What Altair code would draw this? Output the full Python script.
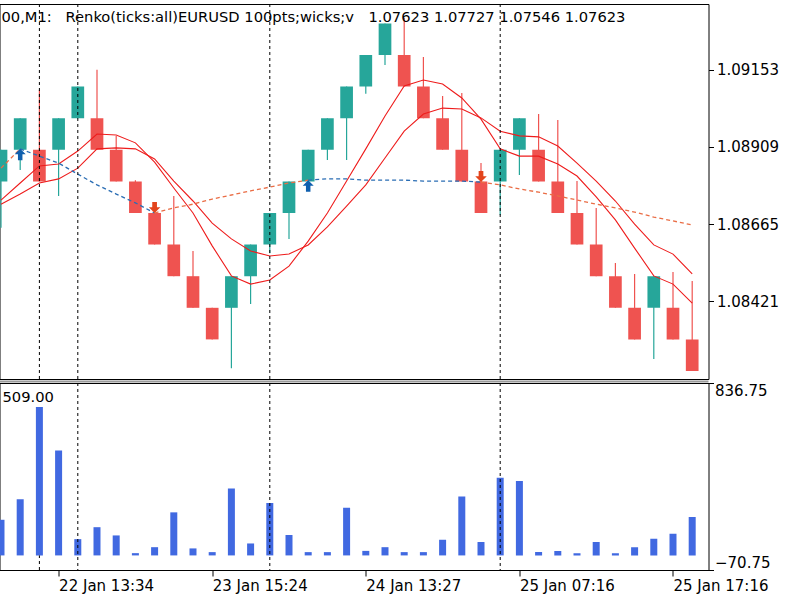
import altair as alt
import pandas as pd

# ---------------- data ----------------
opens = [1.0880, 1.0890, 1.0890, 1.0890, 1.0900, 1.0900, 1.0890, 1.0880, 1.0870, 1.0860,
         1.0850, 1.0840, 1.0840, 1.0850, 1.0860, 1.0870, 1.0880, 1.0890, 1.0900, 1.0910,
         1.0920, 1.0920, 1.0910, 1.0900, 1.0890, 1.0880, 1.0880, 1.0890, 1.0890, 1.0880,
         1.0870, 1.0860, 1.0850, 1.0840, 1.0840, 1.0840, 1.0830]
closes = [1.0890, 1.0900, 1.0880, 1.0900, 1.0910, 1.0890, 1.0880, 1.0870, 1.0860, 1.0850,
          1.0840, 1.0830, 1.0850, 1.0860, 1.0870, 1.0880, 1.0890, 1.0900, 1.0910, 1.0920,
          1.0930, 1.0910, 1.0900, 1.0890, 1.0880, 1.0870, 1.0890, 1.0900, 1.0880, 1.0870,
          1.0860, 1.0850, 1.0840, 1.0830, 1.0850, 1.0830, 1.0820]
highs = [1.0890, 1.0900, 1.09089, 1.0900, 1.0910, 1.09153, 1.08944, 1.08804, 1.0870, 1.08754,
         1.08580, 1.0840, 1.0850, 1.0860, 1.0870, 1.0880, 1.0890, 1.0900, 1.0910, 1.0920,
         1.0930, 1.09317, 1.09194, 1.09070, 1.09080, 1.08858, 1.0890, 1.0900, 1.09013, 1.08994,
         1.08801, 1.08716, 1.08542, 1.08507, 1.0850, 1.08513, 1.08485]
lows = [1.08653, 1.08836, 1.0880, 1.08754, 1.0900, 1.0890, 1.0880, 1.0870, 1.0860, 1.0850,
        1.0840, 1.0830, 1.08209, 1.08412, 1.08573, 1.08618, 1.0880, 1.08868, 1.08868, 1.09077,
        1.09168, 1.0910, 1.0900, 1.0890, 1.0880, 1.0870, 1.08694, 1.08820, 1.0880, 1.0870,
        1.0860, 1.0850, 1.0840, 1.0830, 1.08238, 1.0830, 1.0820]
ma_fast = [1.08741, 1.08795, 1.08849, 1.08855, 1.08896, 1.08950, 1.08947, 1.08922, 1.08861, 1.08779,
           1.08700, 1.08596, 1.08501, 1.08475, 1.08488, 1.08532, 1.08611, 1.08700, 1.08801, 1.08903,
           1.09007, 1.09102, 1.09121, 1.09108, 1.09064, 1.08997, 1.08903, 1.08880, 1.08880, 1.08855,
           1.08817, 1.08751, 1.08678, 1.08589, 1.08501, 1.08475, 1.08415]
ma_slow = [1.08728, 1.08760, 1.08795, 1.08808, 1.08842, 1.08903, 1.08906, 1.08903, 1.08871, 1.08801,
           1.08738, 1.08668, 1.08618, 1.08580, 1.08564, 1.08570, 1.08599, 1.08656, 1.08722, 1.08789,
           1.08874, 1.08959, 1.09013, 1.09032, 1.09029, 1.09001, 1.08959, 1.08944, 1.08941, 1.08912,
           1.08858, 1.08801, 1.08738, 1.08665, 1.08599, 1.08570, 1.08507]
trail = [1.08842, 1.08903, 1.08880, 1.08858, 1.08823, 1.08789, 1.08760, 1.08732, 1.08700, 1.08716,
         1.08728, 1.08744, 1.08757, 1.08770, 1.08782, 1.08795, 1.08804, 1.08808, 1.08808, 1.08804,
         1.08804, 1.08804, 1.08801, 1.08801, 1.08801, 1.08798, 1.08789, 1.08776, 1.08766, 1.08754,
         1.08741, 1.08728, 1.08716, 1.08703, 1.08687, 1.08675, 1.08662]
trail_dir = ["dn", "up", "up", "up", "up", "up", "up", "up", "dn", "dn",
             "dn", "dn", "dn", "dn", "dn", "dn", "up", "up", "up", "up",
             "up", "up", "up", "up", "up", "dn", "dn", "dn", "dn", "dn",
             "dn", "dn", "dn", "dn", "dn", "dn", "dn"]
volumes = [173, 272, 720, 509, 79, 137, 97, 11, 40, 209,
           34, 16, 325, 58, 254, 99, 16, 16, 231, 22,
           40, 16, 16, 76, 286, 65, 377, 361, 16, 22,
           11, 65, 11, 40, 81, 105, 186]
up_arrows = [1, 16]
down_arrows = [8, 25]
vlines_main = [2, 4, 14, 26]
vlines_sub = [4, 14, 26]
vlines_sub_short = [2]
time_tick_idx = [3, 11, 19, 27, 35]
time_labels = ["22 Jan 13:34", "23 Jan 15:24", "24 Jan 13:27", "25 Jan 07:16", "25 Jan 17:16"]
price_ticks = [1.08421, 1.08665, 1.08909, 1.09153]
vol_ticks = [-70.75, 836.75]
title_parts = ["00,M1:", "Renko(ticks:all)EURUSD 100pts;wicks;v", "1.07623 1.07727 1.07546 1.07623"]
title_x = [2, 66, 369]  # left edge of each piece, px inside the price panel
sub_text = "509.00"

# ---------------- tables ----------------
n = len(opens)
idx = list(range(n))
candles = pd.DataFrame({"i": idx, "open": opens, "close": closes, "high": highs, "low": lows})
candles["dir"] = ["up" if c > o else "dn" for o, c in zip(opens, closes)]
mas = pd.DataFrame({"i": idx, "fast": ma_fast, "slow": ma_slow})

runs = []
start = 0
for k in range(1, n):
    if trail_dir[k] != trail_dir[start]:
        runs.append((start, k, trail_dir[start]))
        start = k
runs.append((start, n - 1, trail_dir[start]))
trail_rows = []
for r, (a, b, d) in enumerate(runs):
    for j in range(a, b + 1):
        trail_rows.append({"i": j, "v": trail[j], "seg": r, "tdir": d})
trail_df = pd.DataFrame(trail_rows)

up_df = pd.DataFrame({"i": up_arrows, "v": [trail[k] for k in up_arrows]})
dn_df = pd.DataFrame({"i": down_arrows, "v": [trail[k] for k in down_arrows]})
vols = pd.DataFrame({"i": idx, "vol": volumes})
title_df = pd.DataFrame({"t": title_parts, "px": title_x})

# ---------------- scales ----------------
W = 709
H_MAIN = 375
H_SUB = 187
FONT = "DejaVu Sans"
xs = alt.Scale(domain=[-0.078, 36.849], nice=False, zero=False, padding=0)
ys = alt.Scale(domain=[1.081747, 1.093614], nice=False, zero=False)
vs = alt.Scale(domain=[-70.75, 836.75], nice=False, zero=False)
cscale = alt.Scale(domain=["up", "dn"], range=["#26a69a", "#ef5350"])
tscale = alt.Scale(domain=["up", "dn"], range=["#2a6db4", "#ea6d45"])

X = alt.X("i:Q", scale=xs, axis=None)

price_axis = alt.Axis(orient="right", values=price_ticks, format=".5f", tickSize=5,
                      labelPadding=3, domain=False, grid=False, title=None)

wicks = alt.Chart(candles).mark_rule(strokeWidth=1.2, clip=True).encode(
    x=X,
    y=alt.Y("low:Q", scale=ys, axis=price_axis),
    y2="high:Q",
    color=alt.Color("dir:N", scale=cscale, legend=None),
)
bodies = alt.Chart(candles).mark_bar(size=12.7, clip=True).encode(
    x=X, y=alt.Y("open:Q", scale=ys), y2="close:Q",
    color=alt.Color("dir:N", scale=cscale, legend=None),
)
line_fast = alt.Chart(mas).mark_line(color="#ee1c1c", strokeWidth=1.1, clip=True).encode(
    x=X, y=alt.Y("fast:Q", scale=ys))
line_slow = alt.Chart(mas).mark_line(color="#ee1c1c", strokeWidth=1.1, clip=True).encode(
    x=X, y=alt.Y("slow:Q", scale=ys))
trail_line = alt.Chart(trail_df).mark_line(strokeDash=[4, 3], strokeWidth=1.3, clip=True).encode(
    x=X, y=alt.Y("v:Q", scale=ys),
    color=alt.Color("tdir:N", scale=tscale, legend=None),
    detail="seg:N", order="i:Q",
)
up_shape = "M0,0L1.1,1.1L0.45,1.1L0.45,2.3L-0.45,2.3L-0.45,1.1L-1.1,1.1Z"
dn_shape = "M0,0L1.1,-1.1L0.45,-1.1L0.45,-2.1L-0.45,-2.1L-0.45,-1.1L-1.1,-1.1Z"
up_pts = alt.Chart(up_df).mark_point(shape=up_shape, size=100, filled=True, color="#0f5fae",
                                     opacity=1, strokeWidth=0, clip=True).encode(
    x=X, y=alt.Y("v:Q", scale=ys))
dn_pts = alt.Chart(dn_df).mark_point(shape=dn_shape, size=110, filled=True, color="#e3441c",
                                     opacity=1, strokeWidth=0, clip=True).encode(
    x=X, y=alt.Y("v:Q", scale=ys))
vrules = alt.Chart(pd.DataFrame({"i": vlines_main})).mark_rule(
    color="black", strokeDash=[3, 3], strokeWidth=1, clip=True).encode(x=X)
title_mark = alt.Chart(title_df).mark_text(
    align="left", baseline="alphabetic", font=FONT, fontSize=14.7, color="black").encode(
    text="t:N", x=alt.X("px:Q", scale=None), y=alt.value(18))

main = alt.layer(wicks, bodies, line_fast, line_slow, trail_line, up_pts, dn_pts, vrules,
                 title_mark).resolve_scale(color="independent").properties(width=W, height=H_MAIN)

# ---------------- volume panel ----------------
expr = "''"
for v, t in reversed(list(zip(time_tick_idx, time_labels))):
    expr = f"datum.value == {v} ? '{t}' : ({expr})"

time_axis = alt.Axis(orient="bottom", values=time_tick_idx, labelExpr=expr, tickSize=6,
                     labelAlign="left", labelBaseline="top", labelPadding=2, domain=False,
                     grid=False, title=None, labelFlush=False, labelOverlap=False)
vol_axis = alt.Axis(orient="right", values=vol_ticks, format=".2f", tickSize=5, labelPadding=1,
                    labelFlush=True, domain=False, grid=False, title=None)

bars = alt.Chart(vols).mark_bar(size=7, color="#4169e1", clip=True).encode(
    x=alt.X("i:Q", scale=xs, axis=time_axis),
    y=alt.Y("vol:Q", scale=vs, axis=vol_axis),
    y2=alt.datum(0),
)
sub_rules = alt.Chart(pd.DataFrame({"i": vlines_sub})).mark_rule(
    color="black", strokeDash=[3, 3], strokeWidth=1, clip=True).encode(x=alt.X("i:Q", scale=xs))
sub_short = alt.Chart(pd.DataFrame({"i": vlines_sub_short})).mark_rule(
    color="black", strokeDash=[3, 3], strokeWidth=1, clip=True).encode(
    x=alt.X("i:Q", scale=xs), y=alt.datum(-70.75, scale=vs), y2=alt.datum(0))
sub_label = alt.Chart(pd.DataFrame({"t": [sub_text]})).mark_text(
    align="left", baseline="alphabetic", font=FONT, fontSize=14.7, color="black").encode(
    text="t:N", x=alt.value(3), y=alt.value(19))
# grey separator band between the two panels (window splitter)
splitter = alt.Chart(pd.DataFrame({"k": [0]})).mark_rule(
    color="#9a9a9a", strokeWidth=2).encode(
    x=alt.value(0), x2=alt.value(W), y=alt.value(-1.5))

sub = alt.layer(bars, sub_rules, sub_short, sub_label, splitter).properties(width=W, height=H_SUB)

chart = alt.vconcat(main, sub, spacing=0).resolve_scale(
    x="independent", y="independent", color="independent"
).properties(
    padding={"left": -2.5, "top": 3, "right": 0, "bottom": 0},
    background="white",
).configure_view(
    stroke="black", strokeWidth=1
).configure_axis(
    labelFont=FONT, labelFontSize=15, labelColor="black", tickColor="black", tickWidth=1
)

chart.save("out.html", embed_options={"renderer": "svg", "actions": False})
